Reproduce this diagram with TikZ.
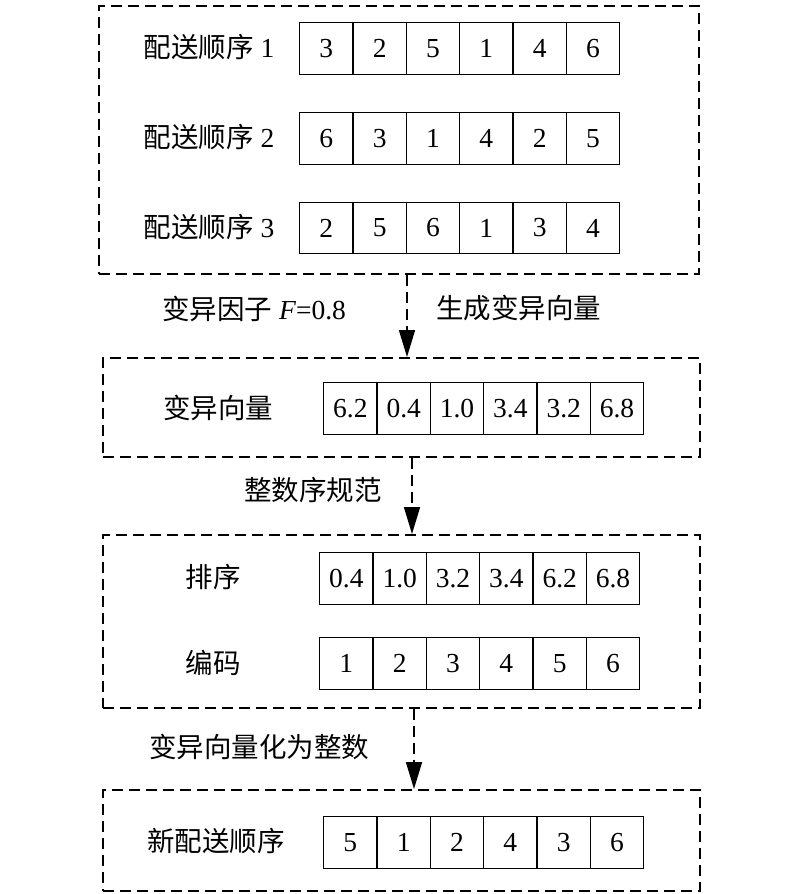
\documentclass[tikz,border=0pt]{standalone}
\usepackage{fontspec}
\setmainfont{Liberation Serif}
\newfontfamily\cjk{Noto Sans CJK SC}
\usetikzlibrary{arrows.meta}
\begin{document}
\begin{tikzpicture}[x=1pt,y=-1pt,
  cell/.style={draw, line width=1.4pt, minimum width=53.33pt, minimum height=51.5pt, inner sep=0pt, anchor=north west, font=\fontsize{27.5}{30}\selectfont},
  dbox/.style={draw, dash pattern=on 11pt off 6pt, line width=1.6pt, inner sep=0pt, anchor=north west},
  lab/.style={inner sep=0pt, font=\fontsize{27.5}{30}\selectfont},
  conn/.style={line width=1.6pt, dash pattern=on 11pt off 6pt, -{Triangle[length=27pt,width=16pt]}}]
\useasboundingbox (0,0) rectangle (800,894);
% dashed boxes
\node[dbox, minimum width=600pt, minimum height=268pt] (b1) at (98,5) {};
\node[dbox, minimum width=597pt, minimum height=99pt] (b2) at (102,357) {};
\node[dbox, minimum width=597pt, minimum height=173pt] (b3) at (102,534) {};
\node[dbox, minimum width=597pt, minimum height=101pt] (b4) at (102,789) {};
% rows of cells
\foreach \v [count=\i from 0] in {3,2,5,1,4,6}
  \node[cell] (ra\i) at (299+\i*53.33,22) {\v};
\foreach \v [count=\i from 0] in {6,3,1,4,2,5}
  \node[cell] (rb\i) at (299+\i*53.33,112) {\v};
\foreach \v [count=\i from 0] in {2,5,6,1,3,4}
  \node[cell] (rc\i) at (299+\i*53.33,201.5) {\v};
\foreach \v [count=\i from 0] in {6.2,0.4,1.0,3.4,3.2,6.8}
  \node[cell] (rv\i) at (323+\i*53.33,382) {\v};
\foreach \v [count=\i from 0] in {0.4,1.0,3.2,3.4,6.2,6.8}
  \node[cell] (rs\i) at (319+\i*53.33,552) {\v};
\foreach \v [count=\i from 0] in {1,2,3,4,5,6}
  \node[cell] (re\i) at (319+\i*53.33,637) {\v};
\foreach \v [count=\i from 0] in {5,1,2,4,3,6}
  \node[cell] (rn\i) at (323+\i*53.33,816) {\v};
% row labels
\node[lab] (la) at (209,47.5) {{\cjk 配送顺序} 1};
\node[lab] (lb) at (209,137.5) {{\cjk 配送顺序} 2};
\node[lab] (lc) at (209,227) {{\cjk 配送顺序} 3};
\node[lab] (lv) at (218,408) {\cjk 变异向量};
\node[lab] (ls) at (213,577.5) {\cjk 排序};
\node[lab] (le) at (213,662.5) {\cjk 编码};
\node[lab] (ln) at (216,841.5) {\cjk 新配送顺序};
% connector labels
\node[lab, anchor=west] (t1) at (162,309) {{\cjk 变异因子} \textit{F}=0.8};
\node[lab, anchor=west] (t2) at (436,308) {\cjk 生成变异向量};
\node[lab, anchor=west] (t3) at (244,490) {\cjk 整数序规范};
\node[lab, anchor=west] (t4) at (149,747) {\cjk 变异向量化为整数};
% connectors
\coordinate (e1) at (407,357);
\coordinate (e2) at (412,534);
\coordinate (e3) at (414,789);
\draw[conn] (e1 |- b1.south) -- (e1);
\draw[conn] (e2 |- b2.south) -- (e2);
\draw[conn] (e3 |- b3.south) -- (e3);
\end{tikzpicture}
\end{document}
